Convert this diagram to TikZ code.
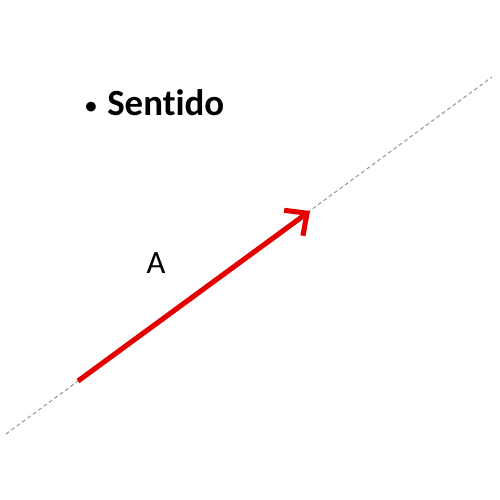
\documentclass[tikz,border=0pt]{standalone}
\usepackage{fontspec}
\setmainfont{Carlito}[Ligatures=NoCommon]
\usepackage{tikz}
\usetikzlibrary{arrows.meta,calc}

\tikzset{
    guide/.style={draw=gray!80, line width=0.6pt, dash pattern=on 2.2pt off 1.6pt},
    vec/.style={draw=red!90!black, line width=2.9pt, -{Straight Barb[length=9.5pt,width=18pt,line width=2.9pt]}}
}

\begin{document}
\begin{tikzpicture}
        \useasboundingbox (0,0) rectangle (10,10);
        \fill[white] (0,0) rectangle (10,10);
        \coordinate (P) at (0.12,1.32);
        \coordinate (Q) at (9.84,8.46);
        \coordinate (A0) at (1.56,2.38);
        \coordinate (A1) at (6.2,5.78);
        \draw[guide] (P) -- (Q);
        \draw[vec] (A0) -- (A1);
        \node[anchor=base west, inner sep=0pt, font=\bfseries\fontsize{21}{24}\selectfont] (title) at (1.7,7.68) {{\fontsize{13}{14}\selectfont\raisebox{1.5pt}{•}}\hspace{6pt}Sentido};
        \node[anchor=base, inner sep=0pt, font=\fontsize{18.5}{22}\selectfont] (lblA) at (3.12,4.52) {A};
    \end{tikzpicture}
\end{document}
